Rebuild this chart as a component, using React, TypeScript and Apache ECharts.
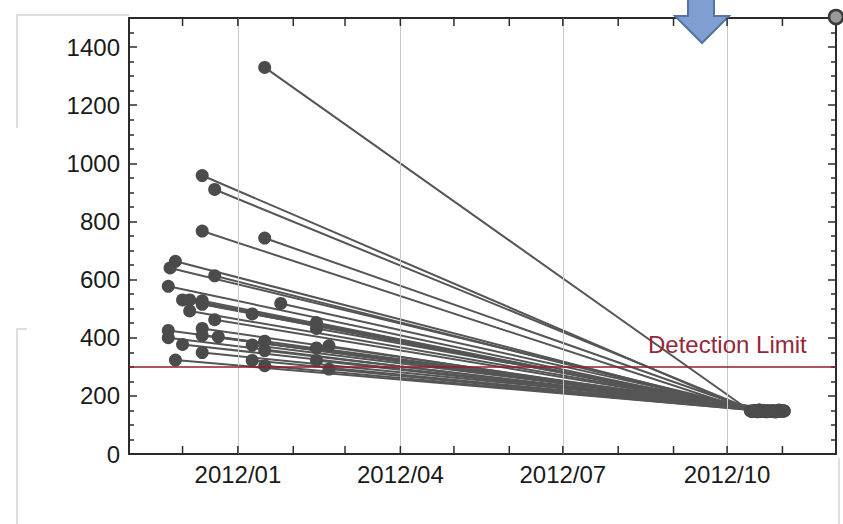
import React, { useEffect, useRef } from "react";
import * as echarts from "echarts";

const startDates = [
  "2012-01-16", "2011-12-12", "2011-12-19", "2011-12-12", "2012-01-16", "2011-11-27",
  "2011-11-24", "2011-12-19", "2011-11-23", "2011-12-01", "2011-12-05", "2011-12-12",
  "2011-12-12", "2011-12-05", "2012-01-25", "2011-12-19", "2012-01-09", "2012-02-14",
  "2012-02-14", "2011-11-23", "2011-11-23", "2011-12-12", "2011-12-12", "2011-12-21",
  "2011-12-01", "2011-12-12", "2011-11-27", "2012-01-09", "2012-01-16", "2012-01-16",
  "2012-01-09", "2012-01-16", "2012-02-14", "2012-02-21", "2012-02-14", "2012-02-21",
];
const startValues = [
  1330, 958, 910, 767, 743, 663, 640, 613, 577, 530, 530, 527, 515, 492, 518, 462, 482, 452,
  432, 425, 400, 432, 408, 403, 377, 349, 323, 375, 388, 356, 322, 304, 365, 372, 322, 292,
];
const endDates = [
  "2012-10-14", "2012-10-15", "2012-10-16", "2012-10-15", "2012-10-17", "2012-10-18",
  "2012-10-19", "2012-10-16", "2012-10-20", "2012-10-21", "2012-10-22", "2012-10-18",
  "2012-10-23", "2012-10-24", "2012-10-19", "2012-10-25", "2012-10-26", "2012-10-20",
  "2012-10-27", "2012-10-28", "2012-10-22", "2012-10-29", "2012-10-30", "2012-10-24",
  "2012-10-31", "2012-11-01", "2012-10-26", "2012-11-02", "2012-10-28", "2012-10-30",
  "2012-11-01", "2012-10-17", "2012-11-02", "2012-10-21", "2012-10-23", "2012-10-25",
];
const endValues = [
  148, 146, 150, 147, 149, 145, 151, 148, 146, 150, 147, 149, 145, 148, 151, 146, 149, 147,
  150, 145, 148, 146, 151, 149, 147, 150, 146, 148, 145, 149, 147, 150, 148, 146, 149, 147,
];
const detectionLimit = 300;
const quarterDates = ["2012-01-01", "2012-04-01", "2012-07-01", "2012-10-01"];
const monthTickDates = [
  "2011-12-01", "2012-01-01", "2012-02-01", "2012-03-01", "2012-04-01", "2012-05-01",
  "2012-06-01", "2012-07-01", "2012-08-01", "2012-09-01", "2012-10-01", "2012-11-01",
];
const axisRange = ["2011-11-01", "2012-12-01"];
const yTicks = { min: 0, max: 1500, interval: 200 };

function ts(s: string): number {
  const [y, m, d] = s.split("-").map(Number);
  return new Date(y, m - 1, d).getTime();
}

export default function App() {
  const ref = useRef<HTMLDivElement>(null);
  useEffect(() => {
    if (!ref.current) return;
    const chart = echarts.init(ref.current, null, { renderer: "svg" });
    const xMin = ts(axisRange[0]);
    const xMax = ts(axisRange[1]);
    const axisLineStyle = { color: "#2b2b2b", width: 2 };
    const tickStyle = { color: "#2b2b2b", width: 1.5 };
    const font = "Liberation Sans, Arial, Helvetica, sans-serif";

    const baseX = {
      type: "time" as const,
      min: xMin,
      max: xMax,
      axisLine: { show: true, onZero: false, lineStyle: axisLineStyle },
      axisTick: { show: false },
      splitLine: { show: false },
    };
    const baseY = {
      type: "value" as const,
      min: yTicks.min,
      max: yTicks.max,
      interval: yTicks.interval,
      axisLine: { show: true, onZero: false, lineStyle: axisLineStyle },
      axisTick: { show: true, inside: true, length: 8, lineStyle: tickStyle },
      minorTick: { show: true, splitNumber: 4, length: 5, lineStyle: tickStyle },
      splitLine: { show: false },
    };

    const dataSeries = startDates.map((sd, i) => ({
      type: "line",
      xAxisIndex: 0,
      yAxisIndex: 0,
      z: 3,
      silent: true,
      symbol: "circle",
      symbolSize: 13,
      showAllSymbol: true,
      lineStyle: { color: "#555555", width: 2 },
      itemStyle: { color: "#4b4b4b" },
      data: [
        [ts(sd), startValues[i]],
        [ts(endDates[i]), endValues[i]],
      ],
    }));

    chart.setOption({
      animation: false,
      grid: { left: 129, right: 7, top: 18, bottom: 70, containLabel: false },
      xAxis: [
        {
          ...baseX,
          position: "bottom",
          splitNumber: 4,
          axisLabel: {
            show: true,
            margin: 8,
            fontSize: 24,
            fontFamily: font,
            color: "#1a1a1a",
            hideOverlap: false,
            showMinLabel: false,
            showMaxLabel: false,
            formatter: (v: number) => {
              const d = new Date(v);
              const m = d.getMonth();
              if (d.getDate() === 1 && m % 3 === 0) {
                return `${d.getFullYear()}/${String(m + 1).padStart(2, "0")}`;
              }
              return "";
            },
          },
        },
        { ...baseX, position: "top", axisLabel: { show: false } },
      ],
      yAxis: [
        {
          ...baseY,
          position: "left",
          axisLabel: {
            show: true,
            margin: 9,
            fontSize: 24,
            fontFamily: font,
            color: "#1a1a1a",
            showMaxLabel: false,
            formatter: (v: number) => String(v),
          },
        },
        { ...baseY, position: "right", axisLabel: { show: false } },
      ],
      series: [
        {
          type: "line",
          xAxisIndex: 0,
          yAxisIndex: 0,
          z: 1,
          silent: true,
          data: [],
          markLine: {
            silent: true,
            symbol: ["none", "none"],
            label: { show: false },
            lineStyle: { color: "#c8c8c8", width: 1, type: "solid" },
            data: quarterDates.map((q) => ({ xAxis: ts(q) })),
          },
        },
        ...dataSeries,
        {
          type: "line",
          xAxisIndex: 0,
          yAxisIndex: 0,
          z: 10,
          silent: true,
          data: [],
          markLine: {
            silent: true,
            symbol: ["none", "none"],
            label: { show: false },
            lineStyle: { color: "#8e1f30", width: 1.6, type: "solid" },
            data: [{ yAxis: detectionLimit }],
          },
        },
      ],
    });

    const yBottom = Number(chart.convertToPixel({ yAxisIndex: 0 }, yTicks.min));
    const yTop = Number(chart.convertToPixel({ yAxisIndex: 0 }, yTicks.max));
    const tickGraphics: any[] = [];
    monthTickDates.forEach((m, i) => {
      const px = Number(chart.convertToPixel({ xAxisIndex: 0 }, ts(m)));
      if (!isFinite(px) || !isFinite(yBottom) || !isFinite(yTop)) return;
      tickGraphics.push({
        type: "line",
        id: "tb" + i,
        z: 40,
        silent: true,
        shape: { x1: px, y1: yBottom, x2: px, y2: yBottom - 8 },
        style: { stroke: "#2b2b2b", lineWidth: 1.5 },
      });
      tickGraphics.push({
        type: "line",
        id: "tt" + i,
        z: 40,
        silent: true,
        shape: { x1: px, y1: yTop, x2: px, y2: yTop + 8 },
        style: { stroke: "#2b2b2b", lineWidth: 1.5 },
      });
    });

    chart.setOption({
      graphic: [
        {
          type: "polyline",
          z: 0,
          silent: true,
          shape: { points: [[129, 15], [17, 15], [17, 128]] },
          style: { stroke: "#d4d4d4", lineWidth: 1.5, fill: null },
        },
        {
          type: "polyline",
          z: 0,
          silent: true,
          shape: { points: [[27, 329], [17, 329], [17, 524]] },
          style: { stroke: "#d4d4d4", lineWidth: 1.5, fill: null },
        },
        {
          type: "line",
          z: 0,
          silent: true,
          shape: { x1: 839, y1: 458, x2: 839, y2: 524 },
          style: { stroke: "#d4d4d4", lineWidth: 1.5 },
        },
        ...tickGraphics,
        {
          type: "text",
          z: 20,
          silent: true,
          x: 648,
          y: 344,
          style: {
            text: "Detection Limit",
            fontSize: 24,
            fontFamily: font,
            fill: "#94283a",
            verticalAlign: "middle",
            align: "left",
          },
        },
        {
          type: "polygon",
          z: 30,
          silent: true,
          shape: {
            points: [[688, -2], [714, -2], [714, 16], [729, 16], [702, 43], [675, 16], [688, 16]],
          },
          style: { fill: "#7f9ed2", stroke: "#56749f", lineWidth: 2 },
        },
        {
          type: "circle",
          z: 30,
          silent: true,
          shape: { cx: 836, cy: 17, r: 7 },
          style: { fill: "#9a9a9a", stroke: "#3a3a3a", lineWidth: 2.5 },
        },
      ],
    });
    return () => chart.dispose();
  }, []);
  return (
    <div
      ref={ref}
      style={{ position: "fixed", left: 0, top: 0, width: 843, height: 524, background: "#fff" }}
    />
  );
}
